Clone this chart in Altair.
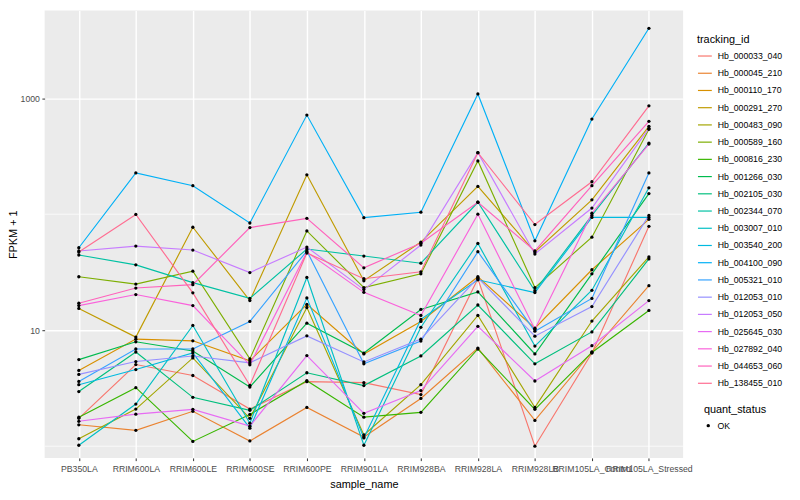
import altair as alt
import pandas as pd

samples = ["PB350LA", "RRIM600LA", "RRIM600LE", "RRIM600SE", "RRIM600PE", "RRIM901LA",
           "RRIM928BA", "RRIM928LA", "RRIM928LB", "RRIM105LA_Control", "RRIM105LA_Stressed"]

tracking_ids = ["Hb_000033_040", "Hb_000045_210", "Hb_000110_170", "Hb_000291_270", "Hb_000483_090",
                "Hb_000589_160", "Hb_000816_230", "Hb_001266_030", "Hb_002105_030", "Hb_002344_070",
                "Hb_003007_010", "Hb_003540_200", "Hb_004100_090", "Hb_005321_010", "Hb_012053_010",
                "Hb_012053_050", "Hb_025645_030", "Hb_027892_040", "Hb_044653_060", "Hb_138455_010"]

palette = ["#F8766D", "#EA8331", "#D89000", "#C09B00", "#A3A500", "#7CAE00", "#39B600", "#00BB4E",
           "#00BF7D", "#00C1A3", "#00BFC4", "#00BAE0", "#00B0F6", "#35A2FF", "#9590FF", "#C77CFF",
           "#E76BF3", "#FA62DB", "#FF62BC", "#FF6C91"]

# FPKM + 1 per sample (order of `samples`)
hb_000033_040 = [1.74, 5.06, 4.07, 2.09, 3.60, 3.53, 2.79, 27.8, 1.00, 6.36, 78.7]
hb_000045_210 = [1.53, 1.37, 2.00, 1.11, 2.16, 1.20, 2.58, 7.02, 1.67, 6.49, 24.2]
hb_000110_170 = [4.50, 8.38, 8.10, 5.44, 16.7, 6.24, 11.9, 28.9, 10.4, 33.2, 90.3]
hb_000291_270 = [15.4, 8.72, 77.2, 18.0, 218.6, 26.7, 57.5, 173.7, 47.2, 133.0, 572.0]
hb_000483_090 = [1.16, 2.09, 5.77, 1.74, 15.7, 1.25, 3.39, 13.4, 2.16, 12.0, 42.8]
hb_000589_160 = [28.9, 25.0, 32.3, 5.66, 71.8, 23.3, 30.6, 288.0, 23.3, 63.4, 540.0]
hb_000816_230 = [1.78, 3.20, 1.10, 1.88, 3.67, 1.78, 1.96, 6.89, 2.08, 6.43, 14.8]
hb_001266_030 = [5.58, 7.95, 6.62, 3.24, 11.5, 6.36, 15.1, 21.4, 6.24, 30.6, 150.5]
hb_002105_030 = [2.96, 6.49, 2.64, 2.04, 4.30, 3.33, 6.00, 16.5, 5.13, 9.67, 41.2]
hb_002344_070 = [44.5, 36.6, 25.7, 18.8, 50.1, 43.6, 37.8, 126.8, 21.9, 97.7, 410.0]
hb_003007_010 = [1.02, 2.31, 11.0, 1.58, 28.5, 1.02, 10.6, 56.0, 7.30, 22.1, 169.0]
hb_003540_200 = [3.39, 4.58, 6.36, 1.43, 19.0, 1.18, 12.4, 27.2, 21.1, 93.9, 93.9]
hb_004100_090 = [51.4, 227.0, 176.0, 84.0, 715.0, 93.4, 104.0, 1088.0, 59.0, 661.0, 4006.0]
hb_005321_010 = [3.62, 6.89, 6.89, 11.9, 48.2, 5.13, 8.06, 47.5, 9.81, 18.8, 227.0]
hb_012053_010 = [4.16, 5.37, 6.00, 5.23, 8.94, 5.33, 8.38, 28.3, 8.89, 16.0, 97.7]
hb_012053_050 = [48.2, 53.1, 49.1, 31.4, 52.1, 22.4, 54.2, 339.0, 45.4, 113.0, 550.0]
hb_025645_030 = [1.64, 1.89, 2.08, 1.49, 6.04, 1.92, 3.02, 10.8, 3.65, 7.35, 18.0]
hb_027892_040 = [16.3, 20.3, 16.3, 5.03, 47.2, 21.2, 13.4, 100.0, 10.2, 102.0, 402.0]
hb_044653_060 = [17.1, 23.1, 24.7, 76.7, 92.1, 34.5, 56.3, 126.8, 48.2, 176.0, 632.0]
hb_138455_010 = [47.2, 99.6, 21.0, 3.35, 46.3, 27.8, 31.9, 339.0, 81.4, 190.5, 860.0]

series = [hb_000033_040, hb_000045_210, hb_000110_170, hb_000291_270, hb_000483_090,
          hb_000589_160, hb_000816_230, hb_001266_030, hb_002105_030, hb_002344_070,
          hb_003007_010, hb_003540_200, hb_004100_090, hb_005321_010, hb_012053_010,
          hb_012053_050, hb_025645_030, hb_027892_040, hb_044653_060, hb_138455_010]

y_major = [10, 1000]
y_minor = [1, 100]
y_domain = [0.793, 5702]

rows = []
for tid, vals in zip(tracking_ids, series):
    for i, (s, v) in enumerate(zip(samples, vals)):
        rows.append({"tracking_id": tid, "sample_name": s, "idx": i, "FPKM": v, "quant_status": "OK"})
df = pd.DataFrame(rows)
minor_df = pd.DataFrame({"FPKM": y_minor})

FONT = "Liberation Sans"

yscale = alt.Scale(type="log", domain=y_domain, nice=False)
xscale = alt.Scale(type="point", padding=0.6)

x_axis = alt.Axis(title="sample_name", labelAngle=0, labelOverlap=False, labelFlush=False,
                  labelFontSize=8.8, labelColor="#4D4D4D", labelPadding=3.5,
                  tickColor="#333333", tickSize=2.75, tickWidth=1,
                  domain=False, grid=True, gridColor="white", gridWidth=1.42,
                  titleFontSize=11, titleFontWeight="normal", titleColor="black",
                  titleY=27, titleBaseline="middle")
y_axis = alt.Axis(title="FPKM + 1", values=y_major, format="d",
                  labelFontSize=8.8, labelColor="#4D4D4D", labelPadding=2.5,
                  tickColor="#333333", tickSize=2.75, tickWidth=1,
                  domain=False, grid=True, gridColor="white", gridWidth=1.42,
                  titleFontSize=11, titleFontWeight="normal", titleColor="black",
                  titleX=-31, titleBaseline="middle")

minor = alt.Chart(minor_df).mark_rule(color="white", strokeWidth=0.71).encode(
    y=alt.Y("FPKM:Q", scale=yscale, axis=y_axis)
)

lines = alt.Chart(df).mark_line(strokeWidth=1.15).encode(
    x=alt.X("sample_name:N", sort=samples, scale=xscale, axis=x_axis),
    y=alt.Y("FPKM:Q", scale=yscale, axis=y_axis),
    color=alt.Color("tracking_id:N", scale=alt.Scale(domain=tracking_ids, range=palette),
                    legend=alt.Legend(title="tracking_id", orient="none", legendX=659, legendY=24,
                                      symbolType="stroke", symbolSize=196, symbolStrokeWidth=1.2,
                                      labelFontSize=8.8, labelColor="black", labelOffset=5,
                                      titleFontSize=11, titleFontWeight="normal", titleColor="black",
                                      titlePadding=3, rowPadding=4.4)),
    order=alt.Order("idx:Q"),
)

points = alt.Chart(df).mark_point(filled=True, color="black", size=11, opacity=1).encode(
    x=alt.X("sample_name:N", sort=samples, scale=xscale, axis=x_axis),
    y=alt.Y("FPKM:Q", scale=yscale, axis=y_axis),
    shape=alt.Shape("quant_status:N", scale=alt.Scale(range=["circle"]),
                    legend=alt.Legend(title="quant_status", orient="none", legendX=666, legendY=398,
                                      symbolSize=12, symbolFillColor="black", symbolStrokeColor="black",
                                      labelFontSize=8.8, labelColor="black", labelOffset=5,
                                      titleFontSize=11, titleFontWeight="normal", titleColor="black",
                                      titlePadding=6)),
)

chart = alt.layer(minor, lines, points).properties(
    width=645, height=452,
    padding={"left": 37, "top": 0, "right": 110, "bottom": 40},
    autosize=alt.AutoSizeParams(type="none"),
    background="white",
).configure(font=FONT).configure_view(fill="#EBEBEB", stroke=None)

chart.save("out.html", embed_options={"renderer": "svg", "actions": False})
